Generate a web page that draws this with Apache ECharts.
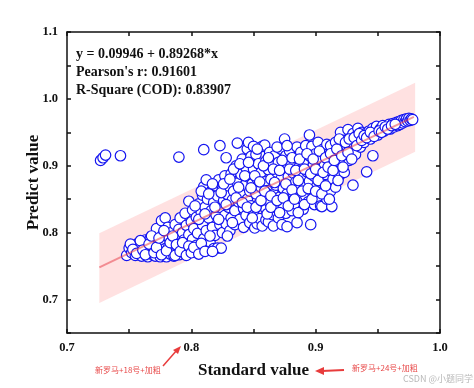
<!DOCTYPE html>
<html><head><meta charset="utf-8">
<script src="https://cdn.jsdelivr.net/npm/echarts@6/dist/echarts.min.js"></script>
<style>html,body{margin:0;padding:0;background:#fff}#c{width:474px;height:388px}</style>
</head><body><div id="c"></div>
<script>
var xTicks = [0.7, 0.8, 0.9, 1.0];
var yTicks = [0.7, 0.8, 0.9, 1.0, 1.1];
var statLines = ["y = 0.09946 + 0.89268*x", "Pearson's r: 0.91601", "R-Square (COD): 0.83907"];
var fitX = [0.726, 0.979];
var fitY = [0.748, 0.973];
var bandX = [0.726, 0.980];
var bandLower = [0.695, 0.921];
var bandUpper = [0.799, 1.024];
var points = [
[0.727,0.908],[0.729,0.912],[0.731,0.916],[0.743,0.915],[0.790,0.913],[0.810,0.924],[0.823,0.930],[0.828,0.912],
[0.748,0.766],[0.750,0.777],[0.752,0.770],[0.754,0.781],[0.755,0.766],[0.757,0.784],[0.758,0.772],[0.760,0.765],[0.760,0.778],
[0.762,0.770],[0.763,0.789],[0.764,0.781],[0.765,0.764],[0.766,0.775],[0.767,0.792],[0.768,0.768],[0.769,0.784],[0.770,0.777],
[0.771,0.765],[0.772,0.806],[0.772,0.789],[0.773,0.772],[0.774,0.781],[0.775,0.764],
[0.776,0.818],[0.777,0.797],[0.777,0.770],[0.778,0.786],[0.779,0.822],[0.779,0.776],[0.780,0.764],[0.781,0.808],[0.782,0.792],
[0.782,0.780],[0.783,0.768],[0.784,0.800],[0.785,0.775],[0.786,0.786],[0.786,0.765],[0.787,0.812],[0.788,0.771],[0.789,0.794],
[0.789,0.780],[0.790,0.767],[0.790,0.805],
[0.791,0.822],[0.792,0.778],[0.793,0.800],[0.794,0.789],[0.795,0.829],[0.795,0.770],[0.796,0.811],[0.797,0.783],[0.798,0.847],
[0.798,0.797],[0.799,0.774],[0.800,0.816],[0.801,0.834],[0.801,0.790],[0.802,0.806],[0.803,0.771],[0.804,0.823],[0.804,0.781],[0.805,0.799],
[0.806,0.843],[0.807,0.776],[0.808,0.830],[0.809,0.856],[0.809,0.812],[0.810,0.869],[0.810,0.791],[0.811,0.838],[0.812,0.879],
[0.812,0.803],[0.813,0.774],[0.813,0.850],[0.814,0.822],[0.815,0.786],[0.816,0.862],[0.816,0.833],[0.817,0.808],[0.818,0.776],
[0.818,0.845],[0.819,0.796],[0.820,0.870],[0.820,0.826],
[0.821,0.777],[0.821,0.855],[0.822,0.879],[0.823,0.838],[0.823,0.812],[0.824,0.777],[0.825,0.865],[0.825,0.800],[0.826,0.848],
[0.827,0.885],[0.827,0.826],[0.828,0.813],[0.829,0.857],[0.830,0.870],[0.830,0.838],[0.831,0.803],[0.832,0.888],[0.832,0.822],
[0.833,0.849],[0.834,0.862],[0.835,0.812],[0.835,0.833],
[0.836,0.900],[0.837,0.934],[0.837,0.874],[0.838,0.846],[0.839,0.820],[0.840,0.887],[0.840,0.858],[0.841,0.910],[0.842,0.836],
[0.842,0.808],[0.843,0.871],[0.844,0.897],[0.844,0.826],[0.845,0.925],[0.845,0.850],[0.846,0.935],[0.846,0.883],[0.847,0.815],
[0.847,0.862],[0.848,0.914],[0.848,0.840],[0.849,0.873],[0.850,0.929],[0.850,0.895],[0.850,0.828],
[0.851,0.807],[0.852,0.858],[0.852,0.917],[0.853,0.880],[0.853,0.813],[0.854,0.842],[0.854,0.903],[0.855,0.821],[0.856,0.868],
[0.856,0.890],[0.857,0.929],[0.857,0.810],[0.858,0.850],[0.859,0.876],[0.859,0.931],[0.860,0.835],[0.860,0.819],[0.860,0.907],
[0.861,0.863],[0.862,0.816],[0.862,0.894],[0.863,0.845],[0.863,0.920],[0.864,0.880],[0.865,0.827],[0.865,0.901],
[0.866,0.858],[0.866,0.810],[0.867,0.915],[0.868,0.871],[0.868,0.838],[0.869,0.890],[0.870,0.822],[0.870,0.905],[0.871,0.853],
[0.872,0.925],[0.872,0.880],[0.873,0.812],[0.874,0.866],[0.874,0.840],[0.875,0.940],[0.875,0.897],[0.876,0.915],[0.876,0.829],
[0.877,0.809],[0.877,0.858],[0.878,0.884],[0.879,0.848],[0.879,0.922],[0.880,0.870],[0.880,0.902],
[0.881,0.833],[0.882,0.889],[0.882,0.859],[0.883,0.912],[0.884,0.876],[0.884,0.843],[0.885,0.928],[0.885,0.815],[0.886,0.897],
[0.887,0.866],[0.888,0.851],[0.888,0.920],[0.889,0.883],[0.890,0.835],[0.890,0.905],[0.891,0.870],[0.892,0.930],[0.892,0.855],
[0.893,0.891],[0.894,0.846],[0.895,0.946],[0.895,0.877],[0.895,0.915],
[0.896,0.812],[0.897,0.862],[0.897,0.929],[0.898,0.900],[0.899,0.842],[0.899,0.884],[0.900,0.918],[0.901,0.870],[0.902,0.853],
[0.902,0.935],[0.903,0.893],[0.904,0.840],[0.904,0.910],[0.905,0.839],[0.905,0.877],[0.906,0.925],[0.907,0.862],[0.907,0.900],
[0.908,0.887],[0.909,0.932],[0.909,0.850],[0.910,0.915],[0.910,0.872],
[0.911,0.893],[0.912,0.862],[0.912,0.930],[0.913,0.839],[0.913,0.905],[0.914,0.880],[0.915,0.920],[0.916,0.935],[0.916,0.868],
[0.917,0.896],[0.918,0.912],[0.919,0.885],[0.920,0.950],[0.920,0.926],[0.921,0.903],[0.922,0.938],[0.923,0.890],[0.924,0.918],[0.925,0.930],
[0.926,0.954],[0.927,0.908],[0.928,0.942],[0.929,0.925],[0.930,0.871],[0.930,0.948],[0.931,0.933],[0.932,0.917],[0.933,0.945],
[0.934,0.956],[0.935,0.938],[0.936,0.928],[0.937,0.950],[0.938,0.942],[0.939,0.935],[0.940,0.948],
[0.941,0.891],[0.942,0.945],[0.943,0.952],[0.944,0.940],[0.945,0.948],[0.946,0.915],[0.946,0.956],[0.948,0.950],[0.949,0.959],
[0.950,0.946],[0.952,0.955],[0.954,0.960],[0.955,0.952],[0.957,0.957],[0.959,0.962],[0.960,0.955],[0.962,0.963],[0.963,0.958],
[0.965,0.965],[0.966,0.960],[0.967,0.966],[0.968,0.962],[0.969,0.968],[0.970,0.964],[0.971,0.969],[0.972,0.966],[0.973,0.970],
[0.974,0.967],[0.975,0.971],[0.976,0.968],[0.977,0.970],[0.978,0.969],
[0.751,0.783],[0.753,0.775],[0.756,0.769],[0.759,0.788],[0.761,0.774],[0.763,0.767],[0.766,0.783],[0.768,0.795],[0.770,0.770],
[0.772,0.778],[0.774,0.792],[0.776,0.767],[0.778,0.803],[0.780,0.773],[0.783,0.785],[0.785,0.795],[0.787,0.766],[0.788,0.782],
[0.791,0.772],[0.793,0.785],[0.796,0.766],[0.798,0.780],[0.800,0.770],[0.802,0.778],[0.806,0.768],[0.808,0.784],[0.811,0.772],
[0.815,0.795],[0.817,0.772],
[0.803,0.840],[0.806,0.820],[0.808,0.862],[0.811,0.828],[0.814,0.858],[0.817,0.873],[0.819,0.838],[0.822,0.820],[0.824,0.860],
[0.826,0.873],[0.828,0.842],[0.829,0.795],[0.831,0.880],[0.833,0.815],[0.834,0.895],[0.836,0.852],[0.838,0.868],[0.839,0.903],
[0.841,0.845],[0.843,0.885],[0.845,0.838],[0.846,0.905],[0.848,0.867],[0.849,0.822],
[0.851,0.885],[0.852,0.838],[0.853,0.925],[0.855,0.876],[0.856,0.848],[0.858,0.900],[0.859,0.862],[0.861,0.828],[0.862,0.912],
[0.864,0.855],[0.864,0.838],[0.866,0.895],[0.867,0.875],[0.869,0.848],[0.869,0.928],[0.871,0.893],[0.871,0.830],[0.873,0.908],
[0.874,0.852],[0.876,0.873],[0.877,0.930],[0.878,0.840],[0.879,0.895],[0.881,0.912],[0.881,0.864],[0.883,0.850],[0.884,0.893],
[0.886,0.878],[0.886,0.830],[0.887,0.910],[0.889,0.862],[0.891,0.895],[0.891,0.842],[0.893,0.918],[0.894,0.866],[0.896,0.888],
[0.897,0.850],[0.898,0.910],[0.900,0.862],[0.900,0.895],[0.902,0.878],[0.903,0.922],[0.905,0.858],[0.906,0.890],[0.908,0.912],
[0.908,0.870],[0.910,0.898],[0.911,0.850],[0.912,0.918],[0.914,0.893],[0.915,0.908],[0.917,0.925],[0.918,0.878],[0.919,0.940],
[0.921,0.915],[0.922,0.898],[0.924,0.935],[0.926,0.920],[0.927,0.940],[0.929,0.910],[0.931,0.942],[0.933,0.930],[0.935,0.948],
[0.937,0.938],[0.939,0.945],[0.941,0.942],[0.944,0.950],[0.947,0.944],[0.951,0.952],[0.953,0.950],[0.956,0.958],[0.958,0.955],
[0.961,0.960],[0.964,0.962]
];

var FONT = '"Liberation Serif","Times New Roman",serif';
function isTick(list, v){ for (var i=0;i<list.length;i++){ if (Math.abs(list[i]-v) < 1e-6) return true; } return false; }
var axisLine = {show:true, onZero:false, lineStyle:{color:'#111', width:1.5}};
var axisTick = {show:true, inside:true, length:4, lineStyle:{color:'#111', width:1.5}};

var chart = echarts.init(document.getElementById('c'), null, {renderer:'canvas'});
chart.setOption({
  animation:false,
  backgroundColor:'#fff',
  grid:{left:67, right:34, top:32, bottom:55},
  xAxis:[{
    type:'value', min:0.7, max:1.0, interval:0.05, position:'bottom',
    name:'Standard value', nameLocation:'middle', nameGap:29, nameMoveOverlap:false,
    nameTextStyle:{fontFamily:FONT, fontWeight:'bold', fontSize:17, color:'#111'},
    axisLine:axisLine, axisTick:axisTick, splitLine:{show:false},
    axisLabel:{fontFamily:FONT, fontWeight:'bold', fontSize:12.5, color:'#111', margin:8,
      formatter:function(v){ return isTick(xTicks, v) ? v.toFixed(1) : ''; }}
  },{
    type:'value', min:0.7, max:1.0, interval:0.05, position:'top',
    axisLine:axisLine, axisTick:axisTick, splitLine:{show:false}, axisLabel:{show:false}
  }],
  yAxis:[{
    type:'value', min:0.65, max:1.1, interval:0.05, position:'left',
    name:'Predict value', nameLocation:'middle', nameGap:25, nameMoveOverlap:false,
    nameTextStyle:{fontFamily:FONT, fontWeight:'bold', fontSize:17, color:'#111'},
    axisLine:axisLine, axisTick:axisTick, splitLine:{show:false},
    axisLabel:{fontFamily:FONT, fontWeight:'bold', fontSize:12.5, color:'#111', margin:9,
      formatter:function(v){ return isTick(yTicks, v) ? v.toFixed(1) : ''; }}
  },{
    type:'value', min:0.65, max:1.1, interval:0.05, position:'right',
    axisLine:axisLine, axisTick:axisTick, splitLine:{show:false}, axisLabel:{show:false}
  }],
  series:[
    {
      type:'custom', xAxisIndex:0, yAxisIndex:0, silent:true, z:1,
      data:[[bandX[0], bandLower[0]]],
      renderItem:function(params, api){
        var pts = [
          api.coord([bandX[0], bandLower[0]]),
          api.coord([bandX[1], bandLower[1]]),
          api.coord([bandX[1], bandUpper[1]]),
          api.coord([bandX[0], bandUpper[0]])
        ];
        return {type:'polygon', shape:{points:pts}, style:{fill:'rgba(255,205,205,0.6)', stroke:'none'}};
      }
    },
    {
      type:'scatter', xAxisIndex:0, yAxisIndex:0, z:3,
      data:points, symbol:'circle', symbolSize:10.5,
      itemStyle:{color:'#ffffff', borderColor:'#1515f0', borderWidth:1.2, opacity:1}
    },
    {
      type:'line', xAxisIndex:0, yAxisIndex:0, z:4, silent:true,
      data:[[fitX[0], fitY[0]],[fitX[1], fitY[1]]], symbol:'none',
      lineStyle:{color:'rgba(232,70,80,0.55)', width:2}
    }
  ],
  graphic:[
    {type:'text', left:76, top:46, style:{text:statLines.join('\n'), font:'bold 14px '+FONT, fill:'#111', lineHeight:17.7}},
    {type:'text', left:95, top:366, style:{text:'新罗马+18号+加粗', font:'8px "Noto Sans CJK SC"', fill:'#e84a4a'}},
    {type:'line', shape:{x1:163, y1:366, x2:177, y2:350}, style:{stroke:'#e83c3c', lineWidth:1.5}},
    {type:'polygon', shape:{points:[[181,346],[173,350],[178,354]]}, style:{fill:'#e83c3c'}},
    {type:'text', left:352, top:364, style:{text:'新罗马+24号+加粗', font:'8px "Noto Sans CJK SC"', fill:'#e84a4a'}},
    {type:'line', shape:{x1:344, y1:370, x2:322, y2:371}, style:{stroke:'#e83c3c', lineWidth:2}},
    {type:'polygon', shape:{points:[[315,371],[324,367],[324,375]]}, style:{fill:'#e83c3c'}},
    {type:'text', left:403, top:374, style:{text:'CSDN @小题同学', font:'9px "Noto Sans CJK SC"', fill:'#b8b8b8'}}
  ]
});
</script></body></html>
